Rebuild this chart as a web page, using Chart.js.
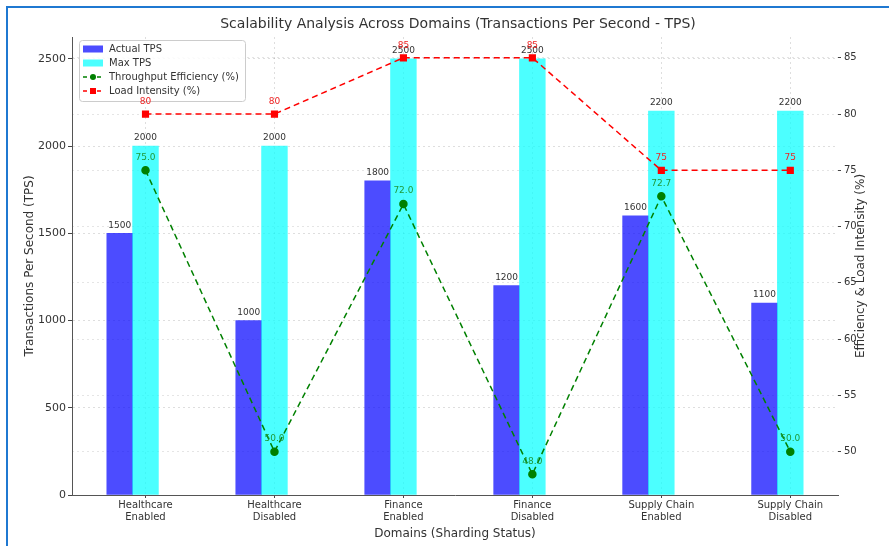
<!DOCTYPE html>
<html>
<head>
<meta charset="utf-8">
<script src="https://cdn.jsdelivr.net/npm/chart.js@4.4.0/dist/chart.umd.min.js"></script>
<style>
  body { margin: 0; background: #fff; }
  #wrap { position: relative; width: 889px; height: 546px; }
  #frame { position: absolute; left: 6px; top: 6px; right: 0; bottom: 0;
    border-left: 2px solid #1f78d1; border-top: 2px solid #1f78d1; pointer-events: none; }
</style>
</head>
<body>
<div id="wrap">
  <canvas id="chart" width="889" height="546"></canvas>
  <div id="frame"></div>
</div>
<script>
const categories = [
  ["Healthcare", "Enabled"], ["Healthcare", "Disabled"],
  ["Finance", "Enabled"], ["Finance", "Disabled"],
  ["Supply Chain", "Enabled"], ["Supply Chain", "Disabled"]
];
const actualTps = [1500, 1000, 1800, 1200, 1600, 1100];
const maxTps = [2000, 2000, 2500, 2500, 2200, 2200];
const efficiency = [75.0, 50.0, 72.0, 48.0, 72.7, 50.0];
const loadIntensity = [80, 80, 85, 85, 75, 75];

const tpsTicks = [0, 500, 1000, 1500, 2000, 2500];
const pctTicks = [50, 55, 60, 65, 70, 75, 80, 85];
const tpsRange = [0, 2625];
const pctRange = [46.15, 86.85];
const xRange = [-0.57, 5.37];
const barShift = -0.2;

const chartTitle = 'Scalability Analysis Across Domains (Transactions Per Second - TPS)';
const rightAxisTitle = 'Efficiency & Load Intensity (%)';

const FONT = '"DejaVu Sans", sans-serif';
const TEXT = '#333';

const pts = (arr, shift) => arr.map((v, i) => ({ x: i + shift, y: v }));

// matplotlib style legend box in the upper left of the plot
const boxLegend = {
  id: 'boxLegend',
  afterDraw(chart) {
    const ctx = chart.ctx;
    const a = chart.chartArea;
    const x = a.left + 7, y = a.top + 3, w = 166, h = 61;
    ctx.save();
    ctx.fillStyle = 'rgba(255,255,255,0.85)';
    ctx.strokeStyle = '#cccccc';
    ctx.lineWidth = 1;
    ctx.beginPath();
    ctx.roundRect(x + 0.5, y + 0.5, w, h, 3);
    ctx.fill();
    ctx.stroke();
    ctx.font = '10px ' + FONT;
    ctx.textBaseline = 'middle';
    chart.data.datasets.forEach((ds, i) => {
      const cy = y + 9 + i * 14;
      const sx = x + 4;
      if (ds.type === 'line') {
        ctx.strokeStyle = ds.borderColor;
        ctx.lineWidth = 1.5;
        ctx.setLineDash([4, 3]);
        ctx.beginPath();
        ctx.moveTo(sx, cy);
        ctx.lineTo(sx + 20, cy);
        ctx.stroke();
        ctx.setLineDash([]);
        ctx.fillStyle = ds.pointBackgroundColor;
        ctx.beginPath();
        if (ds.pointStyle === 'rect') ctx.rect(sx + 7, cy - 3, 6, 6);
        else ctx.arc(sx + 10, cy, 3, 0, Math.PI * 2);
        ctx.fill();
      } else {
        ctx.fillStyle = ds.backgroundColor;
        ctx.fillRect(sx, cy - 3.5, 20, 7);
      }
      ctx.fillStyle = TEXT;
      ctx.fillText(ds.label, x + 30, cy);
    });
    ctx.restore();
  }
};

// value labels, title over the plot area, right axis title (bottom to top)
const extraText = {
  id: 'extraText',
  afterDraw(chart) {
    const ctx = chart.ctx;
    const a = chart.chartArea;
    ctx.save();
    ctx.textAlign = 'center';
    ctx.textBaseline = 'middle';

    ctx.font = '9px ' + FONT;
    chart.data.datasets.forEach((ds, i) => {
      const meta = chart.getDatasetMeta(i);
      meta.data.forEach((el, j) => {
        ctx.fillStyle = ds.labelColor;
        ctx.fillText(ds.fmt(ds.data[j].y), el.x, el.y - ds.labelOffset);
      });
    });

    ctx.fillStyle = TEXT;
    ctx.font = '14px ' + FONT;
    ctx.fillText(chartTitle, (a.left + a.right) / 2 + 3, 24);

    ctx.translate(chart.width - 28, (a.top + a.bottom) / 2);
    ctx.rotate(-Math.PI / 2);
    ctx.font = '12px ' + FONT;
    ctx.fillText(rightAxisTitle, 0, 0);
    ctx.restore();
  }
};

const gridDash = [2, 3];

new Chart(document.getElementById('chart'), {
  type: 'bar',
  data: {
    datasets: [
      {
        label: 'Actual TPS', data: pts(actualTps, barShift), yAxisID: 'y', order: 3,
        backgroundColor: 'rgba(0,0,255,0.7)', barPercentage: 1, categoryPercentage: 1,
        grouped: false, labelColor: TEXT, labelOffset: 8, fmt: v => String(v)
      },
      {
        label: 'Max TPS', data: pts(maxTps, 0), yAxisID: 'y', order: 2,
        backgroundColor: 'rgba(0,255,255,0.7)', barPercentage: 1, categoryPercentage: 1,
        grouped: false, labelColor: TEXT, labelOffset: 8, fmt: v => String(v)
      },
      {
        type: 'line', label: 'Throughput Efficiency (%)', data: pts(efficiency, 0), yAxisID: 'y1', order: 1,
        borderColor: '#008000', backgroundColor: '#008000', pointBackgroundColor: '#008000',
        pointBorderColor: '#008000', borderWidth: 1.5, borderDash: [6, 4], pointRadius: 3.5,
        pointStyle: 'circle', labelColor: '#1f9a3a', labelOffset: 13, fmt: v => v.toFixed(1)
      },
      {
        type: 'line', label: 'Load Intensity (%)', data: pts(loadIntensity, 0), yAxisID: 'y1', order: 0,
        borderColor: '#ff0000', backgroundColor: '#ff0000', pointBackgroundColor: '#ff0000',
        pointBorderColor: '#ff0000', borderWidth: 1.5, borderDash: [6, 4], pointRadius: 4,
        pointStyle: 'rect', labelColor: '#ee2222', labelOffset: 12.5, fmt: v => String(v)
      }
    ]
  },
  options: {
    responsive: false,
    animation: false,
    devicePixelRatio: 1,
    layout: { padding: { top: 37 } },
    plugins: {
      legend: { display: false },
      tooltip: { enabled: false },
      title: { display: false }
    },
    scales: {
      x: {
        type: 'linear', min: xRange[0], max: xRange[1], offset: false,
        afterBuildTicks: s => { s.ticks = categories.map((c, i) => ({ value: i })); },
        afterFit: s => { s.height = 51; },
        ticks: {
          callback: v => categories[v], color: TEXT, padding: 1,
          font: { family: FONT, size: 10, lineHeight: 1.2 }, maxRotation: 0, autoSkip: false
        },
        grid: { color: 'rgba(0,0,0,0.13)', offset: false, tickLength: 3, tickColor: '#444', tickBorderDash: [] },
        border: { display: true, color: '#555', width: 1, dash: gridDash },
        title: {
          display: true, text: 'Domains (Sharding Status)', color: TEXT,
          font: { family: FONT, size: 12 }, padding: { top: 4, bottom: 5 }
        }
      },
      y: {
        position: 'left', min: tpsRange[0], max: tpsRange[1],
        afterBuildTicks: s => { s.ticks = tpsTicks.map(v => ({ value: v })); },
        afterFit: s => { s.width = 72; },
        ticks: { callback: v => String(v), color: TEXT, padding: 2, font: { family: FONT, size: 11 } },
        grid: { color: 'rgba(0,0,0,0.13)', tickLength: 4, tickColor: '#444', tickBorderDash: [] },
        border: { display: true, color: '#555', width: 1, dash: gridDash },
        title: {
          display: true, text: 'Transactions Per Second (TPS)', color: TEXT,
          font: { family: FONT, size: 12 }, padding: { top: 23, bottom: 0 }
        }
      },
      y1: {
        position: 'right', min: pctRange[0], max: pctRange[1],
        afterBuildTicks: s => { s.ticks = pctTicks.map(v => ({ value: v })); },
        afterFit: s => { s.width = 51; },
        ticks: { callback: v => String(v), color: TEXT, padding: 3, font: { family: FONT, size: 10 } },
        grid: { color: 'rgba(0,0,0,0.10)', tickLength: 3, tickColor: '#444', tickBorderDash: [] },
        border: { display: false, dash: gridDash },
        title: { display: false }
      }
    }
  },
  plugins: [boxLegend, extraText]
});
</script>
</body>
</html>
